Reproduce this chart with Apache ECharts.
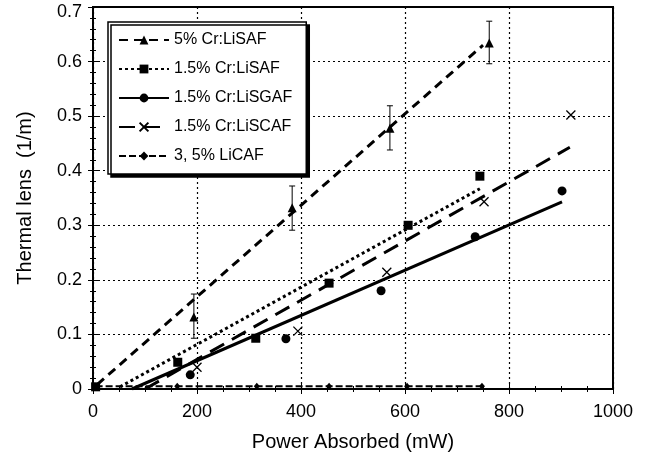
<!DOCTYPE html>
<html><head><meta charset="utf-8">
<script src="https://cdn.jsdelivr.net/npm/echarts@6/dist/echarts.min.js"></script>
<style>html,body{margin:0;padding:0;background:#fff}#c{width:651px;height:464px}</style>
</head><body><div id="c"></div>
<script>
const FONT = '"Liberation Sans", Arial, sans-serif';
const names = ['5% Cr:LiSAF', '1.5% Cr:LiSAF', '1.5% Cr:LiSGAF', '1.5% Cr:LiSCAF', '3, 5% LiCAF'];

// 5% Cr:LiSAF (triangles with error bars)
const lisaf5X = [194, 383, 571, 762];
const lisaf5Y = [0.132, 0.332, 0.478, 0.634];
const lisaf5Lo = [0.093, 0.291, 0.438, 0.596];
const lisaf5Hi = [0.174, 0.372, 0.519, 0.674];
const lisaf5Fit = [[8, 0.008], [750, 0.630]];

// 1.5% Cr:LiSAF (squares)
const lisaf15X = [5, 163, 313, 454, 606, 744];
const lisaf15Y = [0.004, 0.049, 0.093, 0.194, 0.300, 0.390];
const lisaf15Fit = [[52, 0.004], [744, 0.367]];

// 1.5% Cr:LiSGAF (circles)
const lisgafX = [187, 371, 554, 735, 902];
const lisgafY = [0.026, 0.092, 0.180, 0.279, 0.363];
const lisgafFit = [[75, 0.0], [902, 0.343]];

// 1.5% Cr:LiSCAF (crosses)
const liscafX = [200, 394, 565, 752, 919];
const liscafY = [0.040, 0.106, 0.214, 0.343, 0.502];
const liscafFit = [[100, 0.0], [917, 0.443]];

// 3, 5% LiCAF (diamonds)
const licafX = [5, 162, 315, 454, 604, 748];
const licafY = [0.005, 0.005, 0.005, 0.005, 0.005, 0.005];

const xTicks = [0, 200, 400, 600, 800, 1000];
const yTicks = [0, 0.1, 0.2, 0.3, 0.4, 0.5, 0.6, 0.7];

const zip = (xs, ys) => xs.map((x, i) => [x, ys[i]]);
const CROSS = 'path://M0 0L10 10M10 0L0 10';
const blk = '#000';

const chart = echarts.init(document.getElementById('c'), null, {renderer: 'canvas'});

function fitLine(name, data, type, width, symbol, symbolSize) {
  return {
    name, type: 'line', data, showSymbol: false, symbol, symbolSize,
    lineStyle: {color: blk, width, type},
    itemStyle: {color: blk, borderColor: blk, borderWidth: symbol === CROSS ? 1.5 : 0},
    silent: true, z: 3
  };
}
function pts(name, data, symbol, symbolSize) {
  return {
    name, type: 'scatter', data, symbol, symbolSize,
    itemStyle: {color: blk, borderColor: blk, borderWidth: symbol === CROSS ? 1.3 : 0, opacity: 1},
    z: 4, silent: true
  };
}

const axisCommon = {
  type: 'value',
  axisLine: {show: true, lineStyle: {color: blk, width: 2}},
  axisTick: {show: true, inside: true, length: 5, lineStyle: {color: blk, width: 1}},
  minorTick: {show: true, length: 3, lineStyle: {color: blk, width: 1}},
};

const yMax = yTicks[yTicks.length - 1];

const option = {
  animation: false,
  backgroundColor: '#fff',
  grid: {left: 93, right: 38, top: 7, bottom: 75, containLabel: false, outerBoundsMode: 'none',
         show: true, borderColor: blk, borderWidth: 2, backgroundColor: 'transparent'},
  legend: {
    data: names, orient: 'vertical', left: 108, top: 22,
    backgroundColor: '#fff', borderColor: blk, borderWidth: 1.5,
    shadowColor: '#000', shadowOffsetX: 3, shadowOffsetY: 3, shadowBlur: 0,
    padding: [10, 14, 10, 10], itemGap: 13, itemWidth: 50, itemHeight: 11,
    textStyle: {fontFamily: FONT, fontSize: 16, color: blk},
    selectedMode: false
  },
  xAxis: [
    Object.assign({}, axisCommon, {
      min: xTicks[0], max: xTicks[xTicks.length - 1], interval: 200, position: 'bottom',
      minorTick: Object.assign({}, axisCommon.minorTick, {splitNumber: 4}),
      name: 'Power Absorbed (mW)', nameLocation: 'middle', nameGap: 43,
      nameTextStyle: {fontFamily: FONT, fontSize: 20, color: blk},
      axisLabel: {fontFamily: FONT, fontSize: 18, color: blk, margin: 14,
                  formatter: v => String(v)},
      splitLine: {show: true, lineStyle: {color: blk, width: 1.2, type: [2, 3]}}
    }),
    Object.assign({}, axisCommon, {
      min: xTicks[0], max: xTicks[xTicks.length - 1], interval: 200, position: 'top',
      minorTick: Object.assign({}, axisCommon.minorTick, {splitNumber: 4}),
      axisLabel: {show: false}, splitLine: {show: false}
    })
  ],
  yAxis: [
    Object.assign({}, axisCommon, {
      min: yTicks[0], max: yMax, interval: 0.1, position: 'left',
      minorTick: Object.assign({}, axisCommon.minorTick, {splitNumber: 5}),
      name: 'Thermal lens  (1/m)', nameLocation: 'middle', nameGap: 58,
      nameTextStyle: {fontFamily: FONT, fontSize: 20, color: blk},
      axisLabel: {fontFamily: FONT, fontSize: 18, color: blk, margin: 11,
                  formatter: v => {
                    const s = String(Math.round(v * 10) / 10);
                    return Math.abs(v - yMax) < 1e-9 ? '{t|' + s + '}' : s;
                  },
                  rich: {t: {fontFamily: FONT, fontSize: 18, color: blk, padding: [10, 0, 0, 0]}}},
      splitLine: {show: true, lineStyle: {color: blk, width: 1.2, type: [2, 3]}}
    }),
    Object.assign({}, axisCommon, {
      min: yTicks[0], max: yMax, interval: 0.1, position: 'right',
      minorTick: Object.assign({}, axisCommon.minorTick, {splitNumber: 5}),
      axisLabel: {show: false}, splitLine: {show: false}
    })
  ],
  series: [
    fitLine(names[0], lisaf5Fit, [9, 6], 3, 'triangle', 9),
    fitLine(names[1], lisaf15Fit, [3, 3], 3, 'rect', 9),
    fitLine(names[2], lisgafFit, 'solid', 3, 'circle', 9),
    fitLine(names[3], liscafFit, [16, 9], 3, CROSS, 9),
    {
      name: names[4], type: 'line', data: zip(licafX, licafY), symbol: 'diamond', symbolSize: [6, 7],
      showSymbol: true, lineStyle: {color: blk, width: 2.2, type: [7, 3]},
      itemStyle: {color: blk}, z: 3, silent: true
    },
    pts(names[0], zip(lisaf5X, lisaf5Y), 'triangle', 9),
    pts(names[1], zip(lisaf15X, lisaf15Y), 'rect', 9),
    pts(names[2], zip(lisgafX, lisgafY), 'circle', 9),
    pts(names[3], zip(liscafX, liscafY), CROSS, 9),
    {
      name: 'errorbars', type: 'custom', silent: true, z: 4,
      data: lisaf5X.map((x, i) => [x, lisaf5Lo[i], lisaf5Hi[i]]),
      encode: {x: 0, y: [1, 2]},
      renderItem: function (params, api) {
        const x = api.value(0);
        const lo = api.coord([x, api.value(1)]);
        const hi = api.coord([x, api.value(2)]);
        const w = 3;
        const style = {stroke: blk, lineWidth: 1, fill: null};
        return {type: 'group', children: [
          {type: 'line', shape: {x1: lo[0], y1: lo[1], x2: hi[0], y2: hi[1]}, style},
          {type: 'line', shape: {x1: lo[0] - w, y1: lo[1], x2: lo[0] + w, y2: lo[1]}, style},
          {type: 'line', shape: {x1: hi[0] - w, y1: hi[1], x2: hi[0] + w, y2: hi[1]}, style}
        ]};
      }
    }
  ]
};
chart.setOption(option);
</script>
</body></html>
